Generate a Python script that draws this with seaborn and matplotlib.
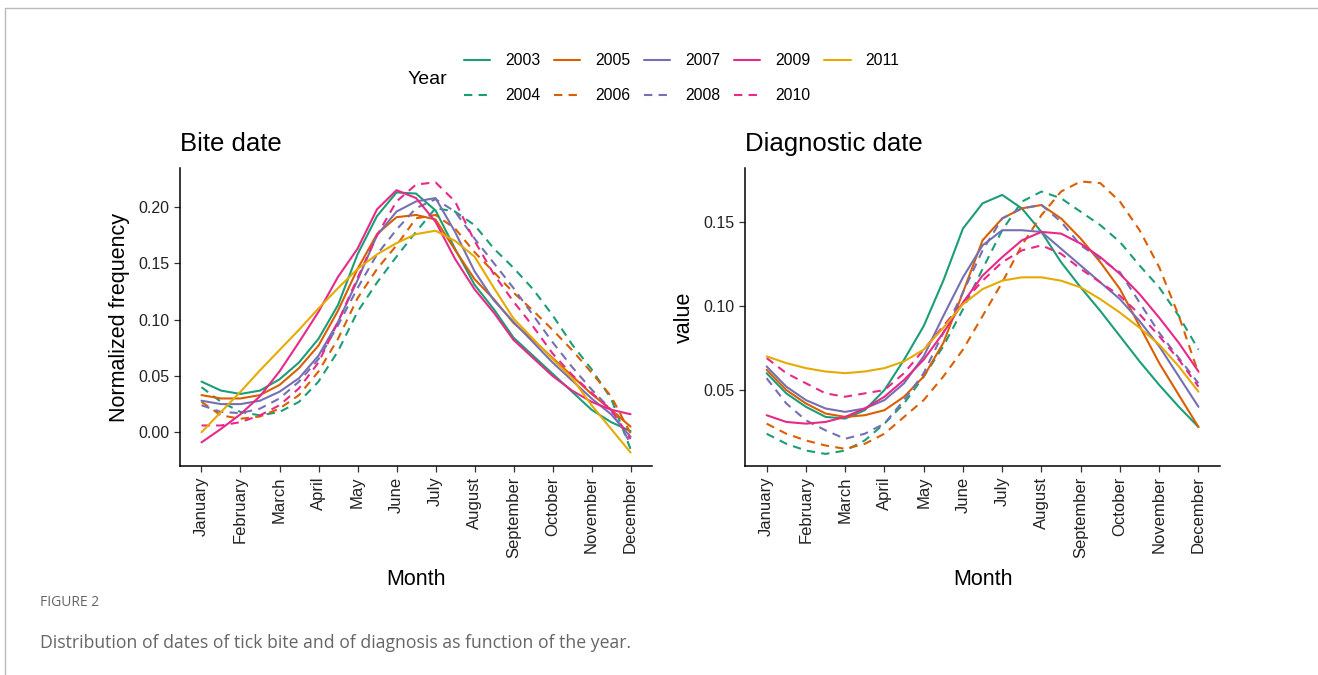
import numpy as np
import pandas as pd
import matplotlib
matplotlib.use("Agg")
import matplotlib.pyplot as plt
from matplotlib.lines import Line2D
import seaborn as sns

# months and years
months = ["January", "February", "March", "April", "May", "June", "July",
          "August", "September", "October", "November", "December"]
years = ["2003", "2004", "2005", "2006", "2007", "2008", "2009", "2010", "2011"]

# curves read at every half month (0 = January ... 11 = December)
month_pos = np.arange(0, 11.5, 0.5)

# bite date, normalized frequency
bite_2003 = [0.045, 0.037, 0.034, 0.037, 0.047, 0.062, 0.083, 0.113, 0.158, 0.192, 0.213, 0.212,
             0.197, 0.163, 0.131, 0.109, 0.084, 0.068, 0.052, 0.036, 0.020, 0.009, 0.001]
bite_2004 = [0.040, 0.027, 0.018, 0.015, 0.018, 0.027, 0.045, 0.072, 0.107, 0.133, 0.156, 0.178,
             0.199, 0.196, 0.184, 0.163, 0.146, 0.127, 0.104, 0.078, 0.056, 0.030, -0.015]
bite_2005 = [0.033, 0.030, 0.030, 0.033, 0.042, 0.057, 0.077, 0.108, 0.145, 0.176, 0.191, 0.193,
             0.189, 0.162, 0.136, 0.118, 0.097, 0.082, 0.066, 0.050, 0.034, 0.020, 0.005]
bite_2006 = [0.027, 0.015, 0.012, 0.014, 0.021, 0.033, 0.054, 0.083, 0.119, 0.145, 0.166, 0.190,
             0.193, 0.181, 0.160, 0.142, 0.124, 0.108, 0.091, 0.073, 0.053, 0.032, -0.001]
bite_2007 = [0.028, 0.025, 0.025, 0.028, 0.036, 0.048, 0.068, 0.098, 0.135, 0.175, 0.196, 0.205,
             0.208, 0.178, 0.143, 0.117, 0.098, 0.080, 0.062, 0.046, 0.030, 0.016, -0.004]
bite_2008 = [0.024, 0.018, 0.017, 0.021, 0.030, 0.045, 0.065, 0.095, 0.128, 0.158, 0.180, 0.199,
             0.207, 0.196, 0.172, 0.150, 0.128, 0.104, 0.080, 0.058, 0.038, 0.020, -0.010]
bite_2009 = [-0.009, 0.003, 0.016, 0.032, 0.054, 0.080, 0.107, 0.138, 0.163, 0.198, 0.215, 0.208,
             0.187, 0.154, 0.127, 0.106, 0.082, 0.066, 0.050, 0.037, 0.027, 0.020, 0.016]
bite_2010 = [0.006, 0.006, 0.009, 0.015, 0.024, 0.039, 0.062, 0.098, 0.137, 0.175, 0.205, 0.220,
             0.222, 0.205, 0.170, 0.140, 0.116, 0.094, 0.070, 0.051, 0.035, 0.020, -0.006]
bite_2011 = [0.000, 0.018, 0.036, 0.055, 0.073, 0.091, 0.110, 0.128, 0.145, 0.158, 0.168, 0.176,
             0.179, 0.170, 0.156, 0.128, 0.101, 0.083, 0.065, 0.048, 0.024, 0.003, -0.018]

# diagnostic date
diag_2003 = [0.060, 0.048, 0.040, 0.034, 0.033, 0.038, 0.050, 0.068, 0.088, 0.115, 0.146, 0.161,
             0.166, 0.158, 0.144, 0.126, 0.111, 0.097, 0.082, 0.067, 0.053, 0.040, 0.028]
diag_2004 = [0.024, 0.018, 0.014, 0.012, 0.014, 0.020, 0.030, 0.042, 0.058, 0.076, 0.098, 0.122,
             0.145, 0.162, 0.168, 0.164, 0.156, 0.148, 0.138, 0.124, 0.111, 0.094, 0.074]
diag_2005 = [0.062, 0.050, 0.042, 0.036, 0.034, 0.035, 0.038, 0.046, 0.058, 0.078, 0.108, 0.139,
             0.152, 0.158, 0.160, 0.152, 0.140, 0.126, 0.110, 0.088, 0.066, 0.047, 0.028]
diag_2006 = [0.030, 0.024, 0.020, 0.017, 0.015, 0.018, 0.024, 0.034, 0.044, 0.058, 0.074, 0.094,
             0.114, 0.136, 0.154, 0.168, 0.174, 0.173, 0.162, 0.145, 0.123, 0.094, 0.060]
diag_2007 = [0.064, 0.052, 0.044, 0.039, 0.037, 0.039, 0.044, 0.054, 0.070, 0.094, 0.117, 0.136,
             0.145, 0.145, 0.144, 0.134, 0.124, 0.114, 0.104, 0.091, 0.076, 0.058, 0.040]
diag_2008 = [0.057, 0.042, 0.032, 0.026, 0.021, 0.024, 0.030, 0.044, 0.060, 0.084, 0.108, 0.133,
             0.152, 0.158, 0.160, 0.150, 0.136, 0.128, 0.120, 0.102, 0.084, 0.069, 0.054]
diag_2009 = [0.035, 0.031, 0.030, 0.031, 0.034, 0.039, 0.046, 0.056, 0.068, 0.084, 0.102, 0.118,
             0.129, 0.139, 0.144, 0.143, 0.137, 0.129, 0.119, 0.107, 0.093, 0.078, 0.061]
diag_2010 = [0.069, 0.060, 0.054, 0.048, 0.046, 0.048, 0.050, 0.060, 0.074, 0.088, 0.102, 0.115,
             0.126, 0.133, 0.136, 0.131, 0.122, 0.114, 0.106, 0.095, 0.082, 0.068, 0.052]
diag_2011 = [0.070, 0.066, 0.063, 0.061, 0.060, 0.061, 0.063, 0.067, 0.074, 0.087, 0.101, 0.110,
             0.115, 0.117, 0.117, 0.115, 0.111, 0.104, 0.096, 0.087, 0.077, 0.064, 0.049]

bite = [bite_2003, bite_2004, bite_2005, bite_2006, bite_2007, bite_2008, bite_2009, bite_2010, bite_2011]
diag = [diag_2003, diag_2004, diag_2005, diag_2006, diag_2007, diag_2008, diag_2009, diag_2010, diag_2011]


def to_long(series):
    rows = []
    for y, vals in zip(years, series):
        for m, v in zip(month_pos, vals):
            rows.append({"Year": y, "month": m, "value": v})
    return pd.DataFrame(rows)


bite_df = to_long(bite)
diag_df = to_long(diag)

green, orange, purple, pink, yellow = "#1B9E77", "#D95F02", "#7570B3", "#E7298A", "#E6AB02"
pal = {"2003": green, "2004": green, "2005": orange, "2006": orange,
       "2007": purple, "2008": purple, "2009": pink, "2010": pink, "2011": yellow}
dash_map = {y: ("" if int(y) % 2 == 1 else (4, 3)) for y in years}

sns.set_style("ticks")
plt.rcParams["font.family"] = ["Liberation Sans", "DejaVu Sans"]
plt.rcParams["text.color"] = "black"
plt.rcParams["axes.labelcolor"] = "black"
plt.rcParams["xtick.color"] = "#333333"
plt.rcParams["ytick.color"] = "#333333"

fig = plt.figure(figsize=(13.18, 6.75), dpi=100)
ax1 = fig.add_axes([0.1366, 0.3096, 0.3581, 0.4415])
ax2 = fig.add_axes([0.5653, 0.3096, 0.3604, 0.4415])

for ax, df in [(ax1, bite_df), (ax2, diag_df)]:
    sns.lineplot(data=df, x="month", y="value", hue="Year", style="Year",
                 palette=pal, dashes=dash_map, linewidth=1.5, ax=ax, legend=False)
    ax.set_xlim(-0.55, 11.55)
    ax.set_xticks(range(12))
    ax.set_xticklabels(months, rotation=90, fontsize=12, color="#222222")
    ax.tick_params(axis="y", labelsize=11.5, labelcolor="#222222")
    ax.tick_params(length=4, width=0.9)
    ax.set_xlabel("Month", fontsize=15.5, labelpad=8)
    for s in ["left", "bottom"]:
        ax.spines[s].set_linewidth(1.1)
        ax.spines[s].set_color("black")
    sns.despine(ax=ax)

ax1.set_ylim(-0.030, 0.2347)
ax1.set_yticks([0.0, 0.05, 0.10, 0.15, 0.20])
ax1.set_yticklabels(["0.00", "0.05", "0.10", "0.15", "0.20"])
ax1.set_ylabel("Normalized frequency", fontsize=15.5, labelpad=6)
ax1.set_title("Bite date", loc="left", fontsize=18.5, pad=12)

ax2.set_ylim(0.0048, 0.182)
ax2.set_yticks([0.05, 0.10, 0.15])
ax2.set_yticklabels(["0.05", "0.10", "0.15"])
ax2.set_ylabel("value", fontsize=15.5, labelpad=6)
ax2.set_title("Diagnostic date", loc="left", fontsize=18.5, pad=12)

# legend: two rows, solid years on top, dashed below
handles = [Line2D([0], [0], color=pal[y], lw=1.5,
                  linestyle="-" if dash_map[y] == "" else (0, (4, 3))) for y in years]
fig.legend(handles, years, ncol=5, loc="center left", bbox_to_anchor=(0.341, 0.884),
           frameon=False, fontsize=11.3, handlelength=1.7, columnspacing=0.85,
           handletextpad=0.95, labelspacing=1.25)
fig.text(0.3245, 0.8815, "Year", fontsize=14, ha="center", va="center")

# caption
fig.text(0.030, 0.108, "FIGURE 2", fontsize=10, color="#666666", family="Open Sans", va="center")
fig.text(0.030, 0.048, "Distribution of dates of tick bite and of diagnosis as function of the year.",
         fontsize=12.7, color="#666666", family="Open Sans", va="center")

# frame
fig.add_artist(Line2D([0.004, 1.0], [0.988, 0.988], transform=fig.transFigure, color="#bbbbbb", lw=1))
fig.add_artist(Line2D([0.004, 0.004], [0.0, 0.988], transform=fig.transFigure, color="#bbbbbb", lw=1))

fig.savefig("out.png", dpi=100)
